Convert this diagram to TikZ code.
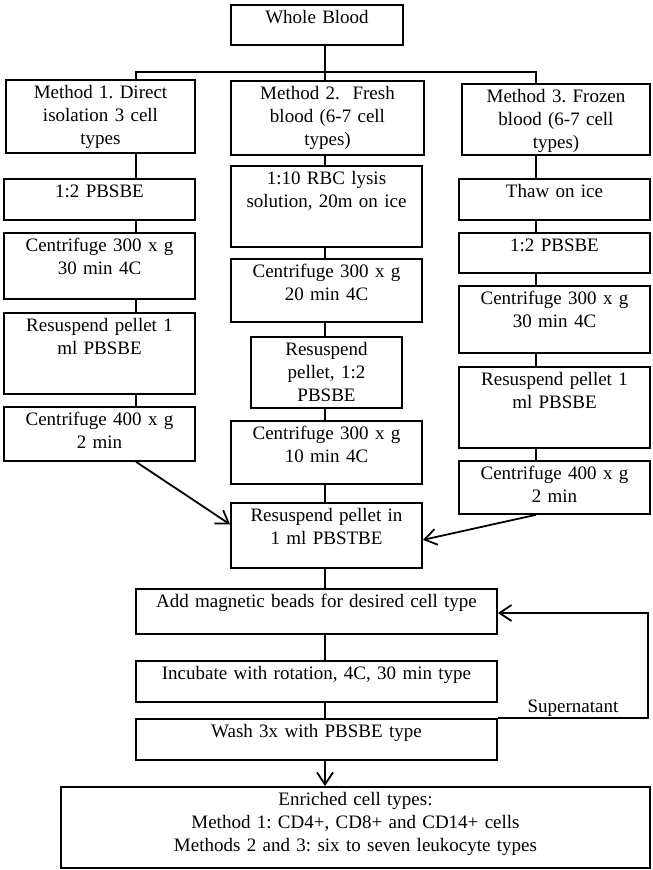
\documentclass[tikz,border=0pt]{standalone}
\usepackage{fontspec}
\setmainfont{Liberation Serif}
\usetikzlibrary{arrows.meta}
\frenchspacing

\tikzset{
  stepbox/.style 2 args={draw, anchor=north, align=center, inner xsep=2pt,
    inner ysep=4.5pt, text height=14pt, text width=#1, text depth=#2},
}

\begin{document}
\begin{tikzpicture}[x=1pt,y=-1pt,line width=1.8pt,>={Straight Barb[length=12pt,width=16pt]},
    every node/.style={font=\fontsize{19}{23}\selectfont}]
  \useasboundingbox (0,0) rectangle (653,870);

  \coordinate (x1) at (136,0);
  \coordinate (x2) at (325,0);
  \coordinate (x3) at (536,0);
  \coordinate (split) at (325,72);
  \coordinate (back) at (648,613);

  \node[stepbox={168pt}{17pt}] (whole) at (317,4) {Whole Blood};

  \node[stepbox={185pt}{50pt}] (m1) at (100.5,79) {Method 1. Direct\\ isolation 3 cell\\ types};
  \node[stepbox={189pt}{51pt}] (m2) at (327.5,80) {Method 2.\ \ Fresh\\ blood (6-7 cell\\ types)};
  \node[stepbox={184pt}{48pt}] (m3) at (556,83) {Method 3. Frozen\\ blood (6-7 cell\\ types)};

  % method 1
  \node[stepbox={187pt}{18pt}] (c1a) at (99.5,178) {1:2 PBSBE};
  \node[stepbox={187pt}{43pt}] (c1b) at (99.5,232) {Centrifuge 300 x g\\ 30 min 4C};
  \node[stepbox={187pt}{58pt}] (c1c) at (99.5,312) {Resuspend pellet 1\\ ml PBSBE};
  \node[stepbox={187pt}{31pt}] (c1d) at (99.5,406) {Centrifuge 400 x g\\ 2 min};

  % method 2
  \node[stepbox={187pt}{58pt}] (c2a) at (326.5,165) {1:10 RBC lysis\\ solution, 20m on ice};
  \node[stepbox={187pt}{40pt}] (c2b) at (326.5,258) {Centrifuge 300 x g\\ 20 min 4C};
  \node[stepbox={147pt}{48pt}] (c2c) at (326.5,336) {Resuspend\\ pellet, 1:2\\ PBSBE};
  \node[stepbox={187pt}{40pt}] (c2d) at (326.5,420) {Centrifuge 300 x g\\ 10 min 4C};

  % method 3
  \node[stepbox={187pt}{18pt}] (c3a) at (554.5,178) {Thaw on ice};
  \node[stepbox={187pt}{17pt}] (c3b) at (554.5,232) {1:2 PBSBE};
  \node[stepbox={187pt}{44pt}] (c3c) at (554.5,285) {Centrifuge 300 x g\\ 30 min 4C};
  \node[stepbox={187pt}{58pt}] (c3d) at (554.5,366) {Resuspend pellet 1\\ ml PBSBE};
  \node[stepbox={187pt}{30pt}] (c3e) at (554.5,460) {Centrifuge 400 x g\\ 2 min};

  % common steps
  \node[stepbox={187pt}{42pt}] (pool) at (326.5,502) {Resuspend pellet in\\ 1 ml PBSTBE};
  \node[stepbox={357pt}{22pt}] (beads) at (316.5,588) {Add magnetic beads for desired cell type};
  \node[stepbox={357pt}{18pt}] (incub) at (316.5,660) {Incubate with rotation, 4C, 30 min type};
  \node[stepbox={357pt}{18pt}] (wash) at (316.5,718) {Wash 3x with PBSBE type};
  \node[stepbox={585pt}{58pt}] (final) at (355.5,786) {Enriched cell types:\\ Method 1: CD4+, CD8+ and CD14+ cells\\ Methods 2 and 3: six to seven leukocyte types};

  \draw (whole.south -| split) -- (split);
  \draw (m1.north -| x1) |- (split) -| (m3.north -| x3);
  \draw (split) -- (m2.north -| split);

  \foreach \a/\b in {m1/c1a,c1a/c1b,c1b/c1c,c1c/c1d}
    \draw (\a.south -| x1) -- (\b.north -| x1);
  \foreach \a/\b in {m2/c2a,c2a/c2b,c2b/c2c,c2c/c2d,c2d/pool,pool/beads,beads/incub,incub/wash}
    \draw (\a.south -| x2) -- (\b.north -| x2);
  \foreach \a/\b in {m3/c3a,c3a/c3b,c3b/c3c,c3c/c3d,c3d/c3e}
    \draw (\a.south -| x3) -- (\b.north -| x3);

  \draw[->] (c1d.south -| x1) -- ([yshift=11pt]pool.west);
  \draw[->] (c3e.south -| x3) -- ([yshift=-4.5pt]pool.east);
  \draw[->] (wash.south -| x2) -- (final.north -| x2);
  \draw[->] (wash.north east) -| node[pos=0.25,above,inner sep=1pt] {Supernatant} (back) -- (beads.east |- back);
\end{tikzpicture}
\end{document}
